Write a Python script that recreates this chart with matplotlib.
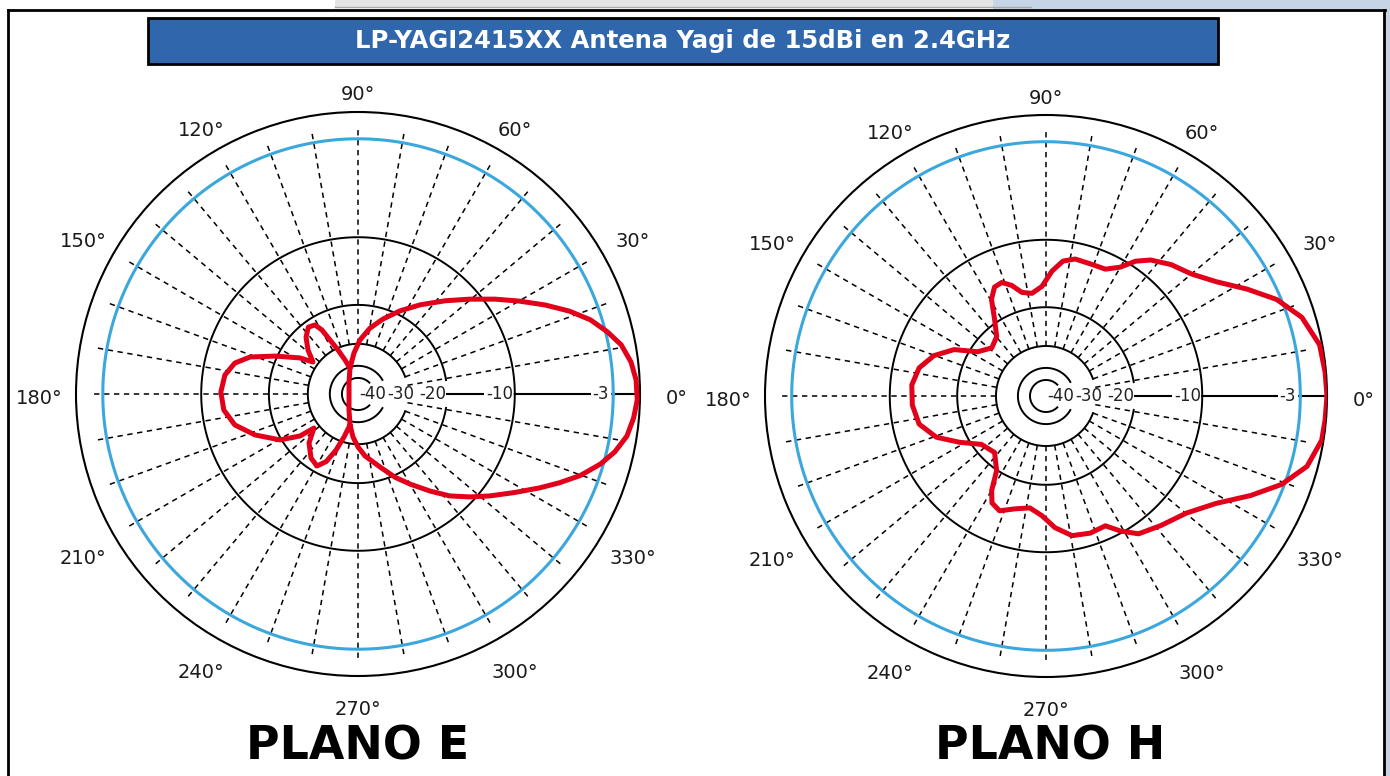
import numpy as np
import matplotlib
matplotlib.use("Agg")
import matplotlib.pyplot as plt
from matplotlib.patches import Rectangle
from matplotlib.lines import Line2D

TITLE = "LP-YAGI2415XX Antena Yagi de 15dBi en 2.4GHz"
PANEL_NAMES = ["PLANO E", "PLANO H"]
ANGLE_TICKS = [0, 30, 60, 90, 120, 150, 180, 210, 240, 270, 300, 330]
RING_LABELS = [-40, -30, -20, -10, -3]
OPEN_RINGS = [-20, -30, -40, -50]     # inner rings, open on the 0 deg side
OPEN_GAPS = [9, 20, 30, 45]           # half-gap of each, degrees

# radial scale of the chart: dB -> fraction of the outer ring
SCALE_DB = [-60, -50, -40, -30, -20, -10, -3, 0, 10]
SCALE_R = [0.0, 0.057, 0.100, 0.178, 0.316, 0.556, 0.905, 1.0, 1.3167]

# plano E, traced along the drawn path (deg, dB)
E_ANG = [255.5, 263.4, 270.0, 276.4, 286.8, 294.0, 300.0, 306.6, 312.0, 317.4,
         322.3, 327.8, 332.7, 336.2, 339.9, 343.9, 347.3, 351.1, 355.0, 358.8,
         2.9, 6.7, 10.6, 14.0, 17.7, 21.4, 25.4, 29.9, 34.7, 40.3,
         46.9, 55.1, 63.2, 71.6, 79.7, 87.9, 95.6, 107.1, 110.9, 114.4,
         117.4, 119.4, 121.9, 126.6, 132.4, 138.7, 144.6, 148.2, 155.4, 161.1,
         165.9, 171.9, 179.2, 186.8, 194.1, 201.7, 210.5, 215.9, 217.7, 225.0,
         233.7, 240.3, 244.8, 248.6, 252.0, 255.5, 240.6, 186.0, 126.9, 107.1]
E_DB = [-38.3, -33.1, -29.3, -26.9, -23.3, -19.7, -17.8, -15.3, -12.9, -10.7,
        -9.3, -8.0, -6.6, -5.5, -4.3, -3.2, -2.1, -1.1, -0.6, -0.3,
        -0.4, -0.8, -1.6, -2.8, -3.8, -5.0, -6.4, -7.9, -9.3, -11.5,
        -14.3, -17.1, -19.4, -22.6, -25.7, -29.0, -34.1, -40.8, -36.3, -30.9,
        -27.3, -24.0, -22.0, -21.5, -23.1, -25.8, -28.7, -25.3, -19.7, -16.3,
        -14.4, -13.3, -12.9, -13.2, -14.4, -16.8, -19.8, -24.5, -28.6, -25.1,
        -22.5, -21.6, -23.7, -27.4, -32.3, -38.3, -48.1, -54.4, -50.7, -40.8]

# plano H (deg, dB)
H_ANG = [0.0, 4.9, 10.6, 17.1, 22.7, 28.0, 33.8, 40.0, 46.4, 52.4,
         56.4, 60.0, 64.9, 71.4, 78.0, 82.8, 87.2, 92.1, 97.8, 103.1,
         107.2, 111.3, 115.3, 119.4, 123.9, 129.7, 138.4, 147.1, 153.2, 160.2,
         167.5, 175.3, 183.9, 192.5, 200.6, 208.1, 216.9, 227.7, 236.5, 240.1,
         243.2, 248.0, 254.5, 261.8, 268.1, 273.9, 280.6, 287.9, 294.6, 298.9,
         303.9, 311.5, 320.2, 327.7, 334.1, 339.4, 344.9, 350.9, 355.1]
H_DB = [0.0, -0.1, -0.3, -1.5, -3.3, -4.9, -6.5, -7.6, -8.2, -8.9,
        -9.6, -11.1, -12.4, -12.5, -12.4, -13.0, -14.6, -16.9, -17.8, -17.4,
        -16.0, -15.1, -15.3, -16.7, -19.5, -23.0, -24.2, -21.9, -17.9, -15.5,
        -13.9, -13.2, -13.3, -13.9, -15.8, -18.6, -22.1, -23.2, -19.9, -17.0,
        -15.4, -14.8, -15.8, -16.4, -15.4, -13.6, -12.1, -11.8, -12.0, -10.3,
        -9.3, -8.8, -8.1, -6.8, -4.9, -3.2, -1.2, -0.2, -0.1]

RED = "#e2001a"
BLUE = "#3ba7dc"


def to_r(db):
    return np.interp(db, SCALE_DB, SCALE_R)


def to_db(r):
    return np.interp(r, SCALE_R, SCALE_DB)


W, H = 1390, 776


def box(x0, y0, x1, y1):
    return [x0 / W, 1 - y1 / H, (x1 - x0) / W, (y1 - y0) / H]


def draw_panel(ax, ang, db, closed):
    ax.set_rscale("function", functions=(to_r, to_db))
    ax.set_rlim(-60, 0)
    ax.set_xticks([])
    ax.set_yticks([])
    ax.grid(False)
    ax.spines["polar"].set_linewidth(1.5)

    for a in range(10, 360, 10):
        t = np.deg2rad(a)
        ax.plot([t, t], [-30, -1.9], color="black", lw=1.1,
                ls=(0, (3.5, 3)), zorder=2)
    ax.plot([0, 0], [-20, 0], color="black", lw=1.5, zorder=2)

    full = np.linspace(0, 2 * np.pi, 721)
    ax.plot(full, np.full_like(full, -10.0), color="black", lw=1.4, zorder=4)
    ax.plot(full, np.full_like(full, -3.0), color=BLUE, lw=2.2, zorder=4)
    for ring, gap in zip(OPEN_RINGS, OPEN_GAPS):
        t = np.deg2rad(np.linspace(gap, 360 - gap, 400))
        ax.plot(t, np.full_like(t, ring), color="black", lw=1.4, zorder=4)

    # ring values along the 0 deg axis
    white = dict(boxstyle="square,pad=0.12", fc="white", ec="none")
    lab_kw = dict(textcoords="offset points", va="center", fontsize=12,
                  color="#222222", zorder=3)
    ax.annotate(str(RING_LABELS[0]), xy=(0, RING_LABELS[0]), xytext=(0, 0),
                ha="right", **lab_kw)
    ax.annotate(str(RING_LABELS[1]), xy=(0, RING_LABELS[0]), xytext=(0.6, 0),
                ha="left", **lab_kw)
    ax.annotate(str(RING_LABELS[2]), xy=(0, RING_LABELS[2]), xytext=(-0.5, 0),
                ha="right", **lab_kw)
    ax.annotate(str(RING_LABELS[3]), xy=(0, RING_LABELS[3]), xytext=(-1, 0),
                ha="right", bbox=white, **lab_kw)
    ax.annotate(str(RING_LABELS[4]), xy=(0, RING_LABELS[4]), xytext=(-3, 0),
                ha="right", bbox=white, **lab_kw)

    for a in ANGLE_TICKS:
        t = np.deg2rad(a)
        q = 1.09 + 0.04 * abs(np.cos(t))
        dy = -3 - 3 * abs(np.sin(t))
        ax.annotate(f"{a}°", xy=(t, to_db(q)), xytext=(0, dy),
                    textcoords="offset points", ha="center", va="center",
                    fontsize=14, color="#1a1a1a", annotation_clip=False)

    th = np.deg2rad(ang)
    vals = np.asarray(db, dtype=float)
    if closed:
        th = np.append(th, th[0])
        vals = np.append(vals, vals[0])
    th = np.unwrap(th)
    ax.plot(th, vals, color=RED, lw=3.6, zorder=6,
            solid_joinstyle="round", solid_capstyle="round")


fig = plt.figure(figsize=(13.9, 7.76), dpi=100)
fig.patch.set_facecolor("white")

# window chrome around the picture
fig.add_artist(Rectangle((335 / W, 1 - 7 / H), 696 / W, 7 / H,
                         transform=fig.transFigure, fc="#e4e4e4", ec="none"))
fig.add_artist(Line2D([335 / W, 1031 / W], [1 - 6.5 / H, 1 - 6.5 / H],
                      transform=fig.transFigure, color="#a8a8a8", lw=1))
fig.add_artist(Rectangle((993 / W, 1 - 9 / H), 397 / W, 9 / H,
                         transform=fig.transFigure, fc="#c6d5e6", ec="none"))
fig.add_artist(Rectangle((1385 / W, 0), 5 / W, 1,
                         transform=fig.transFigure, fc="#c6d5e6", ec="none"))
frame = dict(transform=fig.transFigure, color="black", lw=2)
fig.add_artist(Line2D([8 / W, 1385 / W], [1 - 10 / H, 1 - 10 / H], **frame))
fig.add_artist(Line2D([8 / W, 8 / W], [0, 1 - 10 / H], **frame))
fig.add_artist(Line2D([1384 / W, 1384 / W], [0, 1 - 10 / H], **frame))

# title bar
fig.add_artist(Rectangle((148 / W, 1 - 64 / H), 1070 / W, 46 / H,
                         transform=fig.transFigure, fc="#2f66ac",
                         ec="black", lw=2))
fig.text(683 / W, 1 - 41 / H, TITLE, color="white", fontsize=17.5,
         fontweight="bold", ha="center", va="center")

axE = fig.add_axes(box(76, 112, 640, 676), projection="polar")
axH = fig.add_axes(box(765, 115, 1327, 677), projection="polar")
draw_panel(axE, E_ANG, E_DB, closed=False)
draw_panel(axH, H_ANG, H_DB, closed=True)

fig.text(358 / W, 1 - 747 / H, PANEL_NAMES[0], fontsize=33,
         fontweight="bold", ha="center", va="center")
fig.text(1050 / W, 1 - 747 / H, PANEL_NAMES[1], fontsize=33,
         fontweight="bold", ha="center", va="center")

fig.savefig("out.png", dpi=100)
